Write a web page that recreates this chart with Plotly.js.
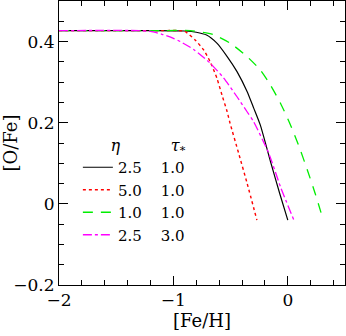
<!DOCTYPE html>
<html>
<head>
<meta charset="utf-8">
<script src="https://cdn.plot.ly/plotly-3.0.1.min.js"></script>
<style>html,body{margin:0;padding:0;background:#fff;}#chart{width:346px;height:336px;}</style>
</head>
<body>
<div id="chart"></div>
<script>
// [Fe/H] and [O/Fe] for each model
const blackX = [-2, -1.2, -0.9, -0.8, -0.71, -0.62, -0.53, -0.444, -0.356, -0.298, -0.24, -0.152, -0.07, 0];
const blackY = [0.427, 0.427, 0.426, 0.423, 0.416, 0.396, 0.363, 0.326, 0.277, 0.236, 0.194, 0.105, 0.025, -0.04];
const redX = [-2, -1.1, -0.95, -0.9, -0.81, -0.737, -0.68, -0.62, -0.575, -0.53, -0.505, -0.43, -0.356, -0.27];
const redY = [0.427, 0.427, 0.427, 0.425, 0.404, 0.380, 0.351, 0.310, 0.268, 0.227, 0.199, 0.125, 0.051, -0.04];
const greenX = [-2, -1.1, -0.853, -0.65, -0.503, -0.356, -0.24, -0.152, -0.064, 0.015, 0.1, 0.17, 0.24, 0.31];
const greenY = [0.427, 0.427, 0.427, 0.417, 0.396, 0.363, 0.330, 0.293, 0.248, 0.200, 0.14, 0.084, 0.025, -0.04];
const magentaX = [-2, -1.3, -1.2, -1.1, -1.0, -0.94, -0.82, -0.68, -0.56, -0.444, -0.356, -0.30, -0.167, -0.064, 0.053];
const magentaY = [0.427, 0.427, 0.425, 0.418, 0.408, 0.400, 0.380, 0.347, 0.310, 0.264, 0.227, 0.203, 0.125, 0.042, -0.04];

const etaVals = ["2.5", "5.0", "1.0", "2.5"];
const tauVals = ["1.0", "1.0", "1.0", "3.0"];

const NB = "\u00A0";
function lbl(i){ return etaVals[i] + NB.repeat(4) + tauVals[i]; }

const serif = "DejaVu Serif, serif";
const traces = [
  {x: blackX, y: blackY, mode: "lines", name: lbl(0), line: {color: "#000000", width: 1.2, shape: "spline", smoothing: 0.6}},
  {x: redX, y: redY, mode: "lines", name: lbl(1), line: {color: "#ff0000", width: 1.4, dash: "dot", shape: "spline", smoothing: 0.6}},
  {x: greenX, y: greenY, mode: "lines", name: lbl(2), line: {color: "#00ee00", width: 1.3, dash: "10px,8px", shape: "spline", smoothing: 0.6}},
  {x: magentaX, y: magentaY, mode: "lines", name: lbl(3), line: {color: "#ff00ff", width: 1.3, dash: "dashdot", shape: "spline", smoothing: 0.6}}
];

const axCommon = {
  showgrid: false, zeroline: false, showline: true, linecolor: "#000", linewidth: 1,
  mirror: "allticks", ticks: "inside", ticklen: 9, tickwidth: 1, tickcolor: "#000",
  tickfont: {family: serif, size: 17, color: "#000"},
  minor: {ticks: "inside", ticklen: 5, tickwidth: 1, tickcolor: "#000", showgrid: false}
};

const layout = {
  width: 346, height: 336,
  margin: {l: 59, r: 1, t: 1, b: 51},
  paper_bgcolor: "#fff", plot_bgcolor: "#fff",
  showlegend: true,
  legend: {
    x: 0.066, y: 0.545, xanchor: "left", yanchor: "top",
    bgcolor: "rgba(0,0,0,0)", borderwidth: 0,
    font: {family: serif, size: 15, color: "#000"},
    title: {text: NB.repeat(6) + "<i>η</i>" + NB.repeat(10) + "<i>τ</i><sub>*</sub>", font: {family: serif, size: 16, color: "#000"}},
    itemwidth: 30, tracegroupgap: 0
  },
  xaxis: Object.assign({}, axCommon, {
    range: [-2, 0.5], dtick: 1, tick0: 0,
    minor: Object.assign({}, axCommon.minor, {dtick: 0.2}),
    title: {text: "[Fe/H]", font: {family: serif, size: 18, color: "#000"}, standoff: 4}
  }),
  yaxis: Object.assign({}, axCommon, {
    range: [-0.2, 0.5], dtick: 0.2, tick0: 0,
    minor: Object.assign({}, axCommon.minor, {dtick: 0.05}),
    title: {text: "[O/Fe]", font: {family: serif, size: 18, color: "#000"}, standoff: 2}
  })
};

Plotly.newPlot("chart", traces, layout, {displayModeBar: false, staticPlot: true});
</script>
</body>
</html>
